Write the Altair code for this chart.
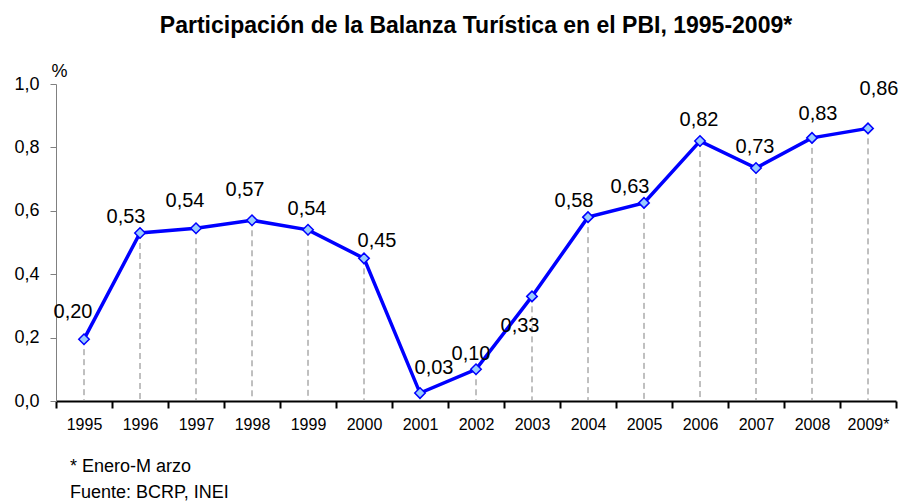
import altair as alt
import pandas as pd

years = ["1995", "1996", "1997", "1998", "1999", "2000", "2001", "2002",
         "2003", "2004", "2005", "2006", "2007", "2008", "2009*"]
values = [0.195, 0.53, 0.545, 0.57, 0.54, 0.45, 0.025, 0.10,
          0.33, 0.58, 0.625, 0.82, 0.735, 0.83, 0.86]
labels = ["0,20", "0,53", "0,54", "0,57", "0,54", "0,45", "0,03", "0,10",
          "0,33", "0,58", "0,63", "0,82", "0,73", "0,83", "0,86"]
label_side = ["uul", "ul", "uul", "uul2", "u", "ur", "ur3", "l",
              "dl", "ul", "ul", "u", "u", "ur2", "uur"]
y_ticks = [0.0, 0.2, 0.4, 0.6, 0.8, 1.0]

title_text = "Participación de la Balanza Turística en el PBI, 1995-2009*"
note1 = "* Enero-M arzo"
note2 = "Fuente: BCRP, INEI"

# label offsets (pixels) by side
offsets = {
    "uul": (-11, -27), "uul2": (-7, -30), "ul": (-14, -16), "u": (-1, -21),
    "ur": (13, -17), "ur2": (6, -24), "ur3": (14, -25), "uur": (11, -39),
    "l": (-5, -15), "dl": (-12, 30),
}

df = pd.DataFrame({"year": years, "value": values, "label": labels, "side": label_side})

FONT = "Liberation Sans"

x = alt.X("year:N", sort=years, title=None,
          scale=alt.Scale(paddingInner=0, paddingOuter=0),
          axis=alt.Axis(tickBand="extent", domainColor="black", domainWidth=2,
                        tickColor="black", tickWidth=2, tickSize=7,
                        labelAngle=0, labelFont=FONT, labelFontSize=16,
                        labelColor="black", labelPadding=8, grid=False))
y = alt.Y("value:Q", title="%",
          scale=alt.Scale(domain=[0, 1.0], nice=False),
          axis=alt.Axis(values=y_ticks, labelExpr="replace(format(datum.value, '.1f'), '.', ',')",
                        domainColor="#808080", tickColor="#808080", tickSize=6,
                        labelFont=FONT, labelFontSize=18, labelColor="black",
                        labelPadding=11, grid=False,
                        titleAngle=0, titleX=-5, titleY=-13, titleAlign="left",
                        titleBaseline="middle", titleFont=FONT, titleFontSize=18,
                        titleFontWeight="normal", titleColor="black"))

base = alt.Chart(df)

drops = base.mark_rule(color="#808080", strokeDash=[6, 4], strokeWidth=1).encode(
    x=x, y=y, y2=alt.datum(0))

line = base.mark_line(color="#0000FF", strokeWidth=3.5).encode(x=x, y=y)

pts = base.mark_point(shape="diamond", size=110, filled=True, fill="#99CCFF",
                      stroke="#0000FF", strokeWidth=1.5, opacity=1).encode(x=x, y=y)

text_layers = []
for side, (dx, dy) in offsets.items():
    text_layers.append(
        base.transform_filter(alt.datum.side == side)
        .mark_text(font=FONT, fontSize=20, color="black", dx=dx, dy=dy, baseline="middle")
        .encode(x=x, y=y, text="label:N"))

n1 = alt.Chart(pd.DataFrame({"t": [note1]})).mark_text(
    font=FONT, fontSize=18, color="black", align="left", baseline="middle").encode(
    x=alt.value(14), y=alt.value(383), text="t:N")
n2 = alt.Chart(pd.DataFrame({"t": [note2]})).mark_text(
    font=FONT, fontSize=18, color="black", align="left", baseline="middle").encode(
    x=alt.value(14), y=alt.value(409), text="t:N")

chart = alt.layer(drops, line, pts, *text_layers, n1, n2).properties(
    width=840, height=317,
    title=alt.TitleParams(title_text, font=FONT, fontSize=23, fontWeight="bold",
                          color="black", anchor="middle", offset=24),
    autosize=alt.AutoSizeParams(type="none"),
    padding={"left": 48, "top": 76, "right": 2, "bottom": 100},
).configure_view(stroke=None)

chart.save("out.html", embed_options={"renderer": "svg", "actions": False})
